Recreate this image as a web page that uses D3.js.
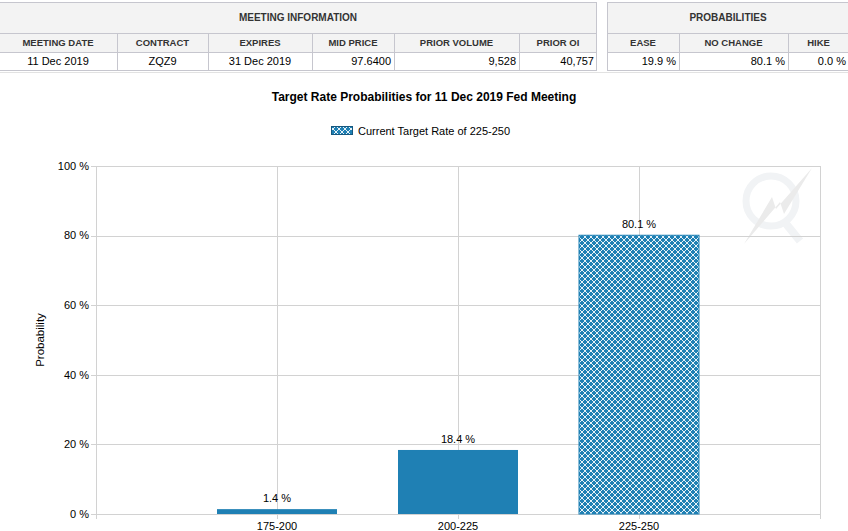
<!DOCTYPE html>
<html>
<head>
<meta charset="utf-8">
<script src="https://cdn.jsdelivr.net/npm/d3@7"></script>
<style>
  body { margin: 0; background: #fff; }
  svg { display: block; font-family: "Liberation Sans", Arial, sans-serif; }
</style>
</head>
<body>
<svg id="chart" width="848" height="531"></svg>
<script>
// table data
var infoHeaders = ['MEETING DATE', 'CONTRACT', 'EXPIRES', 'MID PRICE', 'PRIOR VOLUME', 'PRIOR OI']
var infoValues = ['11 Dec 2019', 'ZQZ9', '31 Dec 2019', '97.6400', '9,528', '40,757']
var probHeaders = ['EASE', 'NO CHANGE', 'HIKE']
var probValues = ['19.9 %', '80.1 %', '0.0 %']

// chart data
var categories = ['175-200', '200-225', '225-250']
var probabilities = [1.4, 18.4, 80.1]
var currentTarget = '225-250'
var yTicks = [0, 20, 40, 60, 80, 100]

var svg = d3.select('#chart')
var blue = '#1f80b4'

// ---------- top tables ----------
function drawPanel(title, headers, values, edges, aligns) {
  var g = svg.append('g')
  var top = 2, r1 = 33, r2 = 52, bottom = 70
  var left = edges[0], right = edges[edges.length - 1]

  g.append('rect').attr('x', left).attr('y', top).attr('width', right - left).attr('height', r2 - top)
    .attr('fill', '#f3f3f3')
  g.append('rect').attr('x', left).attr('y', r2).attr('width', right - left).attr('height', bottom - r2)
    .attr('fill', '#fff')

  var line = function (x1, y1, x2, y2) {
    g.append('line').attr('x1', x1).attr('y1', y1).attr('x2', x2).attr('y2', y2)
      .attr('stroke', '#c6c6ce').attr('stroke-width', 1).attr('shape-rendering', 'crispEdges')
  }
  line(left, top + 0.5, right, top + 0.5)
  line(left, r1 + 0.5, right, r1 + 0.5)
  line(left, r2 + 0.5, right, r2 + 0.5)
  line(left, bottom + 0.5, right, bottom + 0.5)
  line(left + 0.5, top, left + 0.5, bottom)
  line(right - 0.5, top, right - 0.5, bottom)
  for (var i = 1; i < edges.length - 1; i++) line(edges[i] + 0.5, r1, edges[i] + 0.5, bottom)

  g.append('text').attr('x', (left + right) / 2).attr('y', 21)
    .attr('text-anchor', 'middle').attr('font-size', 10).attr('font-weight', 'bold')
    .attr('fill', '#333').text(title)

  headers.forEach(function (h, i) {
    g.append('text').attr('x', (edges[i] + edges[i + 1]) / 2).attr('y', 46)
      .attr('text-anchor', 'middle').attr('font-size', 9.5).attr('font-weight', 'bold')
      .attr('fill', '#333').text(h)
  })
  values.forEach(function (v, i) {
    var tx = aligns[i] == 'end' ? edges[i + 1] - 3 : (edges[i] + edges[i + 1]) / 2
    g.append('text').attr('x', tx).attr('y', 65)
      .attr('text-anchor', aligns[i]).attr('font-size', 11)
      .attr('fill', '#000').text(v)
  })
}

drawPanel('MEETING INFORMATION', infoHeaders, infoValues,
  [-1, 117, 208, 312, 394, 519, 597], ['middle', 'middle', 'middle', 'end', 'end', 'end'])
drawPanel('PROBABILITIES', probHeaders, probValues,
  [607, 679, 788, 849], ['end', 'end', 'end'])

svg.append('line').attr('x1', 0).attr('x2', 848).attr('y1', 72.5).attr('y2', 72.5)
  .attr('stroke', '#e2e2e2')

// ---------- chart ----------
var defs = svg.append('defs')
var pat = defs.append('pattern').attr('id', 'hatch')
  .attr('patternUnits', 'userSpaceOnUse').attr('width', 6).attr('height', 6)
pat.append('rect').attr('width', 6).attr('height', 6).attr('fill', blue)
pat.append('path').attr('d', 'M0,0L6,6M6,0L0,6M-1,5L1,7M5,-1L7,1M-1,1L1,-1M5,7L7,5')
  .attr('stroke', '#fff').attr('stroke-width', 0.9)

var x = d3.scalePoint().domain(categories).range([96, 820]).padding(1)
var y = d3.scaleLinear().domain([0, 100]).range([514, 166])
var barW = 120
var grid = '#d2d2d2'

svg.append('text')
  .attr('x', 424).attr('y', 101)
  .attr('text-anchor', 'middle').attr('font-size', 12).attr('font-weight', 'bold')
  .text('Target Rate Probabilities for 11 Dec 2019 Fed Meeting')

// legend
svg.append('rect').attr('x', 331.5).attr('y', 126.5).attr('width', 21).attr('height', 8)
  .attr('fill', 'url(#hatch)').attr('stroke', '#16577e')
svg.append('text').attr('x', 358).attr('y', 134.5).attr('font-size', 11)
  .text('Current Target Rate of ' + currentTarget)

// watermark
var wm = svg.append('g')
wm.append('circle').attr('cx', 771).attr('cy', 201).attr('r', 25)
  .attr('fill', 'none').attr('stroke', '#f1f3f5').attr('stroke-width', 7)
wm.append('line').attr('x1', 783).attr('y1', 220).attr('x2', 800).attr('y2', 241)
  .attr('stroke', '#f1f3f5').attr('stroke-width', 8)
wm.append('path')
  .attr('d', 'M812,168L784,214L780,202L744,244L772,197L776,209Z')
  .attr('fill', '#ebebeb')

// grid
svg.append('g').selectAll('line').data(yTicks).enter().append('line')
  .attr('x1', 91).attr('x2', 820)
  .attr('y1', function (d) { return Math.round(y(d)) + 0.5 })
  .attr('y2', function (d) { return Math.round(y(d)) + 0.5 })
  .attr('stroke', grid)

var xTicks = [96, 820].concat(categories.map(function (c) { return x(c) }))
svg.append('g').selectAll('line').data(xTicks).enter().append('line')
  .attr('x1', function (d) { return Math.round(d) + 0.5 })
  .attr('x2', function (d) { return Math.round(d) + 0.5 })
  .attr('y1', 166).attr('y2', 519)
  .attr('stroke', grid)

svg.append('g').selectAll('text').data(yTicks).enter().append('text')
  .attr('x', 89).attr('y', function (d) { return y(d) })
  .attr('dy', '0.35em').attr('text-anchor', 'end').attr('font-size', 11)
  .text(function (d) { return d + ' %' })

svg.append('text')
  .attr('transform', 'translate(44,340) rotate(-90)')
  .attr('text-anchor', 'middle').attr('font-size', 11.5)
  .text('Probability')

// bars
svg.append('g').selectAll('rect').data(categories).enter().append('rect')
  .attr('x', function (d) { return x(d) - barW / 2 })
  .attr('y', function (d, i) { return y(probabilities[i]) })
  .attr('width', barW)
  .attr('height', function (d, i) { return y(0) - y(probabilities[i]) })
  .attr('fill', function (d) { return d == currentTarget ? 'url(#hatch)' : blue })
  .attr('stroke', function (d) { return d == currentTarget ? blue : 'none' })

svg.append('g').selectAll('text').data(categories).enter().append('text')
  .attr('x', function (d) { return x(d) })
  .attr('y', function (d, i) { return y(probabilities[i]) - 7 })
  .attr('text-anchor', 'middle').attr('font-size', 11)
  .text(function (d, i) { return probabilities[i].toFixed(1) + ' %' })

svg.append('g').selectAll('text').data(categories).enter().append('text')
  .attr('x', function (d) { return x(d) })
  .attr('y', 530)
  .attr('text-anchor', 'middle').attr('font-size', 11)
  .text(function (d) { return d })
</script>
</body>
</html>
